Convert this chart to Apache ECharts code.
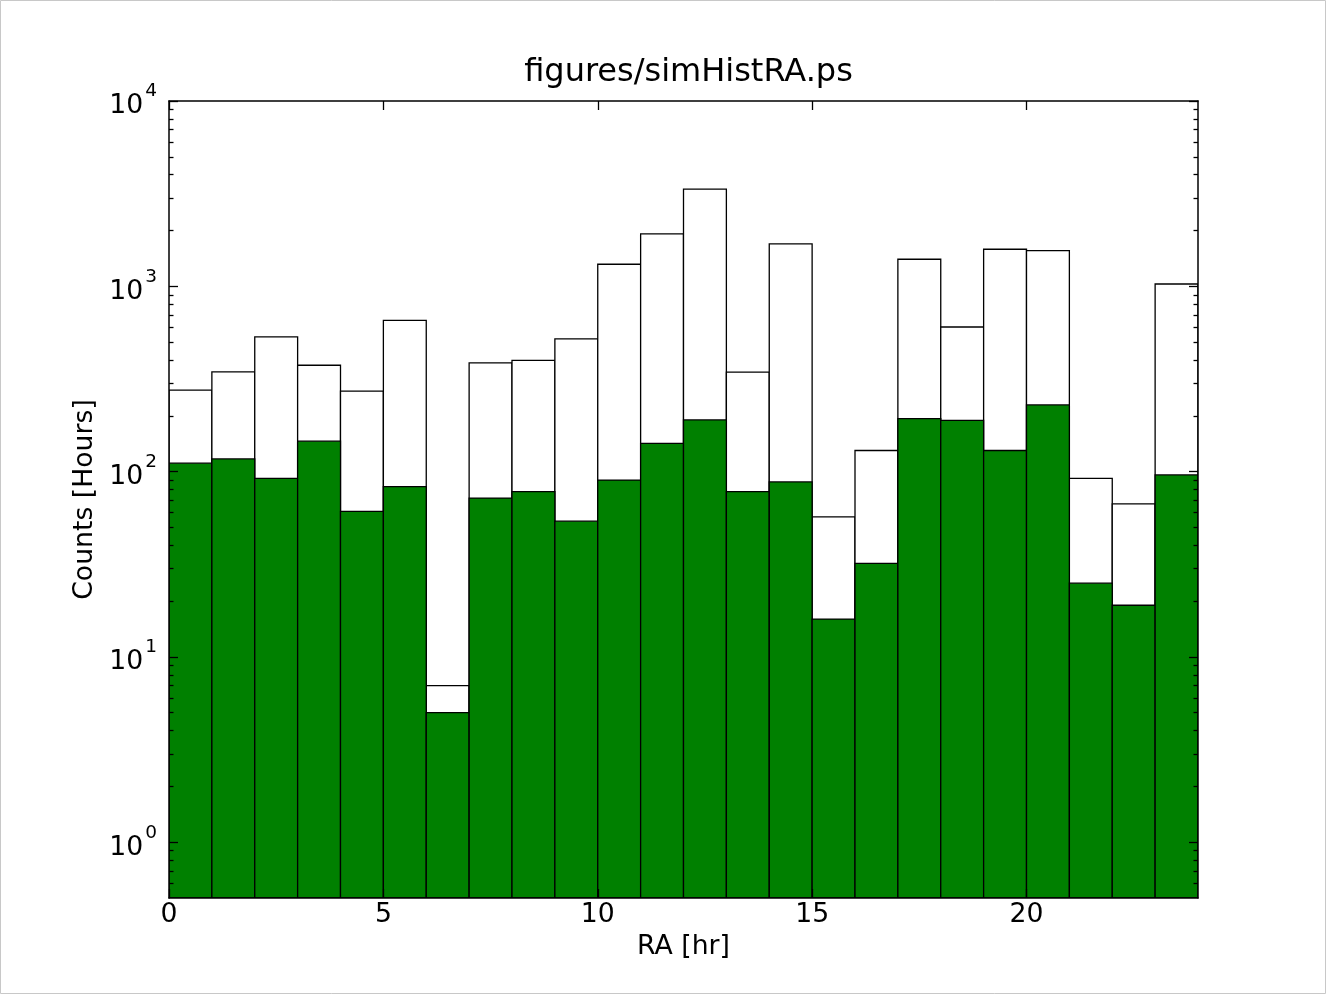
<!DOCTYPE html>
<html>
<head>
<meta charset="utf-8">
<title>figures/simHistRA.ps</title>
<script src="https://cdn.jsdelivr.net/npm/echarts@6/dist/echarts.min.js"></script>
<style>
  html, body { margin: 0; padding: 0; background: #ffffff; }
  #chart { width: 1326px; height: 994px; }
</style>
</head>
<body>
<div id="chart"></div>
<script>
// Histogram of simulated hours per RA bin (1 hr wide bins, 0-24 hr)
const raBinEdges = [0, 1, 2, 3, 4, 5, 6, 7, 8, 9, 10, 11, 12, 13, 14, 15, 16, 17, 18, 19, 20, 21, 22, 23, 24];
const totalHours = [275, 345, 534, 375, 272, 655, 7, 386, 398, 521, 1315, 1917, 3343, 344, 1693, 57, 130, 1400, 603, 1585, 1557, 92, 67, 1029];
const selectedHours = [111, 117, 92, 146, 61, 83, 5, 72, 78, 54, 90, 142, 190, 78, 88, 16, 32, 193, 189, 130, 229, 25, 19, 96];

// Axis tick definitions
const xTickValues = [0, 5, 10, 15, 20];
const yDecades = [0, 1, 2, 3, 4];          // labels 10^0 ... 10^4
const yMinorMultipliers = [2, 3, 4, 5, 6, 7, 8, 9];
const yMinValue = 0.5;
const yMaxValue = 10000;

const FONT = 'DejaVu Sans';
const Y_MIN = Math.log10(yMinValue);
const Y_MAX = Math.log10(yMaxValue);

// minor ticks (2..9 x 10^n) in log10 space
const yMinorTicks = [];
for (let n = yDecades[0] - 1; n < yDecades[yDecades.length - 1]; n++) {
  yMinorMultipliers.forEach(function (k) {
    const lv = Math.log10(k * Math.pow(10, n));
    if (lv > Y_MIN + 1e-9 && lv < Y_MAX) yMinorTicks.push(lv);
  });
}

function binData(values) {
  return values.map(function (v, i) {
    return [raBinEdges[i], raBinEdges[i + 1], Math.log10(v), v];
  });
}

function makeRenderer(fill) {
  return function (params, api) {
    const top = api.coord([api.value(0), api.value(2)]);
    const bottom = api.coord([api.value(1), Y_MIN]);
    return {
      type: 'rect',
      shape: { x: top[0], y: top[1], width: bottom[0] - top[0], height: bottom[1] - top[1] },
      style: { fill: fill, stroke: '#000000', lineWidth: 1.3 }
    };
  };
}

const axisLineStyle = { color: '#000000', width: 1.5 };
const tickLineStyle = { color: '#000000', width: 1.3 };

function yAxisBase(position) {
  return {
    type: 'value',
    position: position,
    min: Y_MIN,
    max: Y_MAX,
    z: 10,
    splitLine: { show: false },
    axisLine: { show: false, onZero: false }
  };
}

const chart = echarts.init(document.getElementById('chart'), null, { renderer: 'canvas' });

chart.setOption({
  backgroundColor: '#ffffff',
  animation: false,
  textStyle: { fontFamily: FONT },
  title: {
    text: 'figures/simHistRA.ps',
    left: 683.5,
    textAlign: 'center',
    top: 52,
    textStyle: { fontFamily: FONT, fontSize: 32, fontWeight: 'normal', color: '#000000' }
  },
  graphic: [{
    type: 'rect',
    shape: { x: 0.5, y: 0.5, width: 1325, height: 993 },
    style: { fill: 'none', stroke: '#c8c8c8', lineWidth: 1 },
    silent: true
  }],
  grid: { left: 169, top: 101, width: 1029, height: 797, containLabel: false },
  xAxis: [
    {
      type: 'value',
      position: 'bottom',
      min: 0,
      max: 24,
      interval: 5,
      z: 10,
      name: 'RA [hr]',
      nameLocation: 'middle',
      nameGap: 30,
      nameTextStyle: { fontFamily: FONT, fontSize: 26.7, color: '#000000' },
      axisLine: { show: true, onZero: false, lineStyle: axisLineStyle },
      axisTick: { show: true, inside: true, length: 9, customValues: xTickValues, lineStyle: tickLineStyle },
      axisLabel: { show: true, margin: 4, customValues: xTickValues, fontFamily: FONT, fontSize: 26.7, color: '#000000' },
      splitLine: { show: false }
    },
    {
      type: 'value',
      position: 'top',
      min: 0,
      max: 24,
      interval: 5,
      z: 10,
      axisLine: { show: true, onZero: false, lineStyle: axisLineStyle },
      axisTick: { show: true, inside: true, length: 9, customValues: xTickValues, lineStyle: tickLineStyle },
      axisLabel: { show: false },
      splitLine: { show: false }
    }
  ],
  yAxis: [
    Object.assign(yAxisBase('left'), {
      name: 'Counts [Hours]',
      nameLocation: 'middle',
      nameGap: 70,
      nameTextStyle: { fontFamily: FONT, fontSize: 26.7, color: '#000000' },
      axisLine: { show: true, onZero: false, lineStyle: axisLineStyle },
      axisTick: { show: true, inside: true, length: 9, customValues: yDecades, lineStyle: tickLineStyle },
      axisLabel: {
        show: true,
        margin: 12,
        customValues: yDecades,
        formatter: function (v) { return '{b|10}{s|' + Math.round(v) + '}'; },
        rich: {
          b: { fontFamily: FONT, fontSize: 26.7, color: '#000000', lineHeight: 38, verticalAlign: 'bottom' },
          s: { fontFamily: FONT, fontSize: 18.5, color: '#000000', lineHeight: 14, verticalAlign: 'top', padding: [0, 0, 0, 2] }
        }
      }
    }),
    Object.assign(yAxisBase('left'), {
      axisTick: { show: true, inside: true, length: 4.5, customValues: yMinorTicks, lineStyle: tickLineStyle },
      axisLabel: { show: false }
    }),
    Object.assign(yAxisBase('right'), {
      axisLine: { show: true, onZero: false, lineStyle: axisLineStyle },
      axisTick: { show: true, inside: true, length: 9, customValues: yDecades, lineStyle: tickLineStyle },
      axisLabel: { show: false }
    }),
    Object.assign(yAxisBase('right'), {
      axisTick: { show: true, inside: true, length: 4.5, customValues: yMinorTicks, lineStyle: tickLineStyle },
      axisLabel: { show: false }
    })
  ],
  series: [
    {
      name: 'All',
      type: 'custom',
      xAxisIndex: 0,
      yAxisIndex: 0,
      clip: true,
      renderItem: makeRenderer('#ffffff'),
      encode: { x: [0, 1], y: 2 },
      data: binData(totalHours),
      z: 1
    },
    {
      name: 'Selected',
      type: 'custom',
      xAxisIndex: 0,
      yAxisIndex: 0,
      clip: true,
      renderItem: makeRenderer('#008000'),
      encode: { x: [0, 1], y: 2 },
      data: binData(selectedHours),
      z: 2
    }
  ]
});
</script>
</body>
</html>
